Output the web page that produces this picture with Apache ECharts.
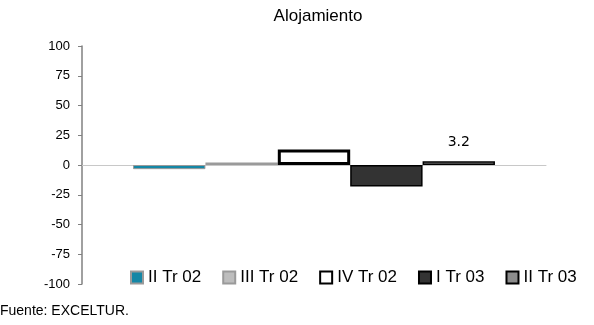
<!DOCTYPE html>
<html>
<head>
<meta charset="utf-8">
<script src="https://cdn.jsdelivr.net/npm/echarts@6/dist/echarts.min.js"></script>
<style>
  html, body { margin: 0; padding: 0; background: #fff; }
  #chart { width: 594px; height: 325px; }
</style>
</head>
<body>
<div id="chart"></div>
<script>
// datos
const categories = ['Alojamiento']
const seriesNames = ['II Tr 02', 'III Tr 02', 'IV Tr 02', 'I Tr 03', 'II Tr 03']
const seriesValues = [-3.5, 2, 13, -18, 3.2]
const yTicks = [-100, -75, -50, -25, 0, 25, 50, 75, 100]

// estilos por serie (relleno / borde)
const fills = ['#1487a6', '#bdbdbd', '#ffffff', '#333333', '#8c8c8c']
const borders = ['#9a9a9a', '#9a9a9a', '#000000', '#000000', '#000000']
const borderWidths = [1, 1.5, 3, 1.5, 1.5]

const chart = echarts.init(document.getElementById('chart'))

const option = {
  animation: false,
  title: {
    text: 'Alojamiento',
    left: 313,
    textAlign: 'center',
    top: 3,
    textStyle: { fontFamily: 'Liberation Sans', fontSize: 17, fontWeight: 'normal', color: '#000' }
  },
  graphic: [{
    type: 'text',
    left: 0,
    top: 304,
    style: { text: 'Fuente: EXCELTUR.', font: '14px "Liberation Sans"', fill: '#000' }
  }],
  legend: {
    left: 125,
    top: 264,
    icon: 'rect',
    itemWidth: 12,
    itemHeight: 12,
    itemGap: 21,
    textStyle: { fontFamily: 'Liberation Sans', fontSize: 17, color: '#000' },
    data: seriesNames
  },
  grid: { left: 82, right: 48, top: 46, bottom: 41 },
  xAxis: {
    type: 'category',
    data: categories,
    axisLine: { lineStyle: { color: '#c8c8c8' } },
    axisTick: { alignWithLabel: true, inside: true, length: 4, lineStyle: { color: '#c8c8c8' } },
    axisLabel: { show: false }
  },
  yAxis: {
    type: 'value',
    min: yTicks[0],
    max: yTicks[yTicks.length - 1],
    interval: 25,
    axisLine: { show: true, lineStyle: { color: '#808080', width: 1.5 } },
    axisTick: { show: true, length: 4, lineStyle: { color: '#808080' } },
    splitLine: { show: false },
    axisLabel: { fontFamily: 'Liberation Sans', fontSize: 13, color: '#000', margin: 12 }
  },
  series: seriesNames.map((name, i) => ({
    name: name,
    type: 'bar',
    data: [seriesValues[i]],
    barGap: '0%',
    barCategoryGap: '22%',
    itemStyle: { color: fills[i], borderColor: borders[i], borderWidth: borderWidths[i] },
    label: i === 4 ? {
      show: true,
      position: 'top',
      distance: 12,
      formatter: '{c}',
      fontFamily: 'DejaVu Sans',
      fontSize: 14,
      color: '#000'
    } : { show: false }
  }))
}

chart.setOption(option)
</script>
</body>
</html>
